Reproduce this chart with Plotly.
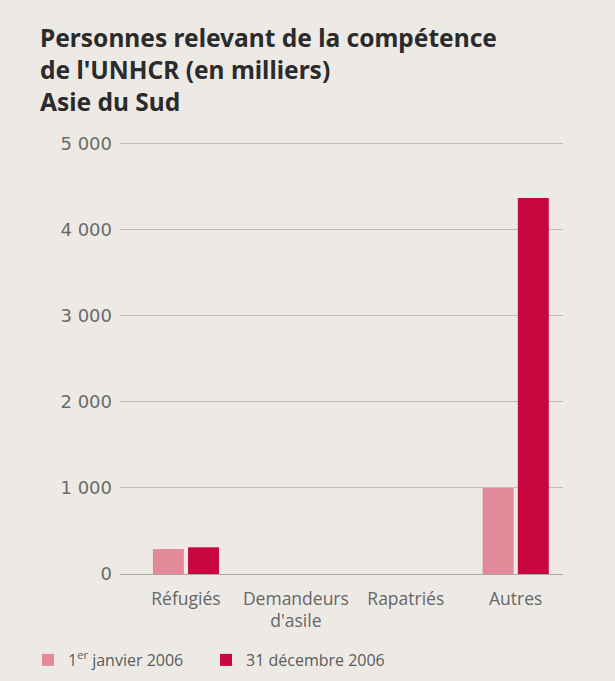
import plotly.graph_objects as go

categories = ["Réfugiés", "Demandeurs<br>d'asile", "Rapatriés", "Autres"]
jan_2006 = [290, 0, 0, 1000]
dec_2006 = [310, 0, 0, 4370]
series_names = ["1<sup>er</sup> janvier 2006", "31 décembre 2006"]
y_ticks = [0, 1000, 2000, 3000, 4000, 5000]
y_tick_labels = ["0", "1 000", "2 000", "3 000", "4 000", "5 000"]

BG = "#EDEAE6"
LIGHT = "#E2899A"
DARK = "#C8063F"

fig = go.Figure()
fig.add_trace(go.Bar(x=categories, y=jan_2006, name=series_names[0],
                     marker=dict(color=LIGHT, line=dict(width=0))))
fig.add_trace(go.Bar(x=categories, y=dec_2006, name=series_names[1],
                     marker=dict(color=DARK, line=dict(width=0))))

fig.update_layout(
    width=615, height=681,
    paper_bgcolor=BG, plot_bgcolor=BG,
    margin=dict(l=120, r=52, t=142, b=107, autoexpand=False),
    barmode="group", bargap=0.36, bargroupgap=0.12,
    font=dict(family="Open Sans, sans-serif", color="#6a6a6a", size=15),
    title=dict(
        text="Personnes relevant de la compétence<br>de l'UNHCR (en milliers)<br>Asie du Sud",
        x=40 / 615, xanchor="left", y=1 - 47 / 681, yanchor="top",
        font=dict(family="Noto Sans, DejaVu Sans, sans-serif", size=24.5, color="#2b2b2b", weight="bold"),
    ),
    showlegend=True,
    legend=dict(orientation="h", xref="container", x=28 / 615, xanchor="left",
                yref="container", y=1 - 660 / 681, yanchor="middle",
                font=dict(family="Open Sans, sans-serif", size=16, color="#5a5a5a"),
                bgcolor="rgba(0,0,0,0)", itemwidth=30, entrywidth=133, traceorder="normal"),
    xaxis=dict(range=[-0.6, 3.43], showgrid=False, showline=False, ticks="",
               ticklabelstandoff=12,
               tickfont=dict(family="Open Sans, sans-serif", size=17.5, color="#666")),
    yaxis=dict(range=[0, 5020], tickvals=y_ticks, ticktext=y_tick_labels,
               showgrid=True, gridcolor="#BEBBB8", gridwidth=1, zeroline=True,
               zerolinecolor="#A9A6A3", zerolinewidth=1, showline=False, ticks="",
               ticklabelstandoff=7,
               tickfont=dict(family="DejaVu Sans, sans-serif", size=18, color="#6a6a6a")),
)

fig.write_html("out.html")
